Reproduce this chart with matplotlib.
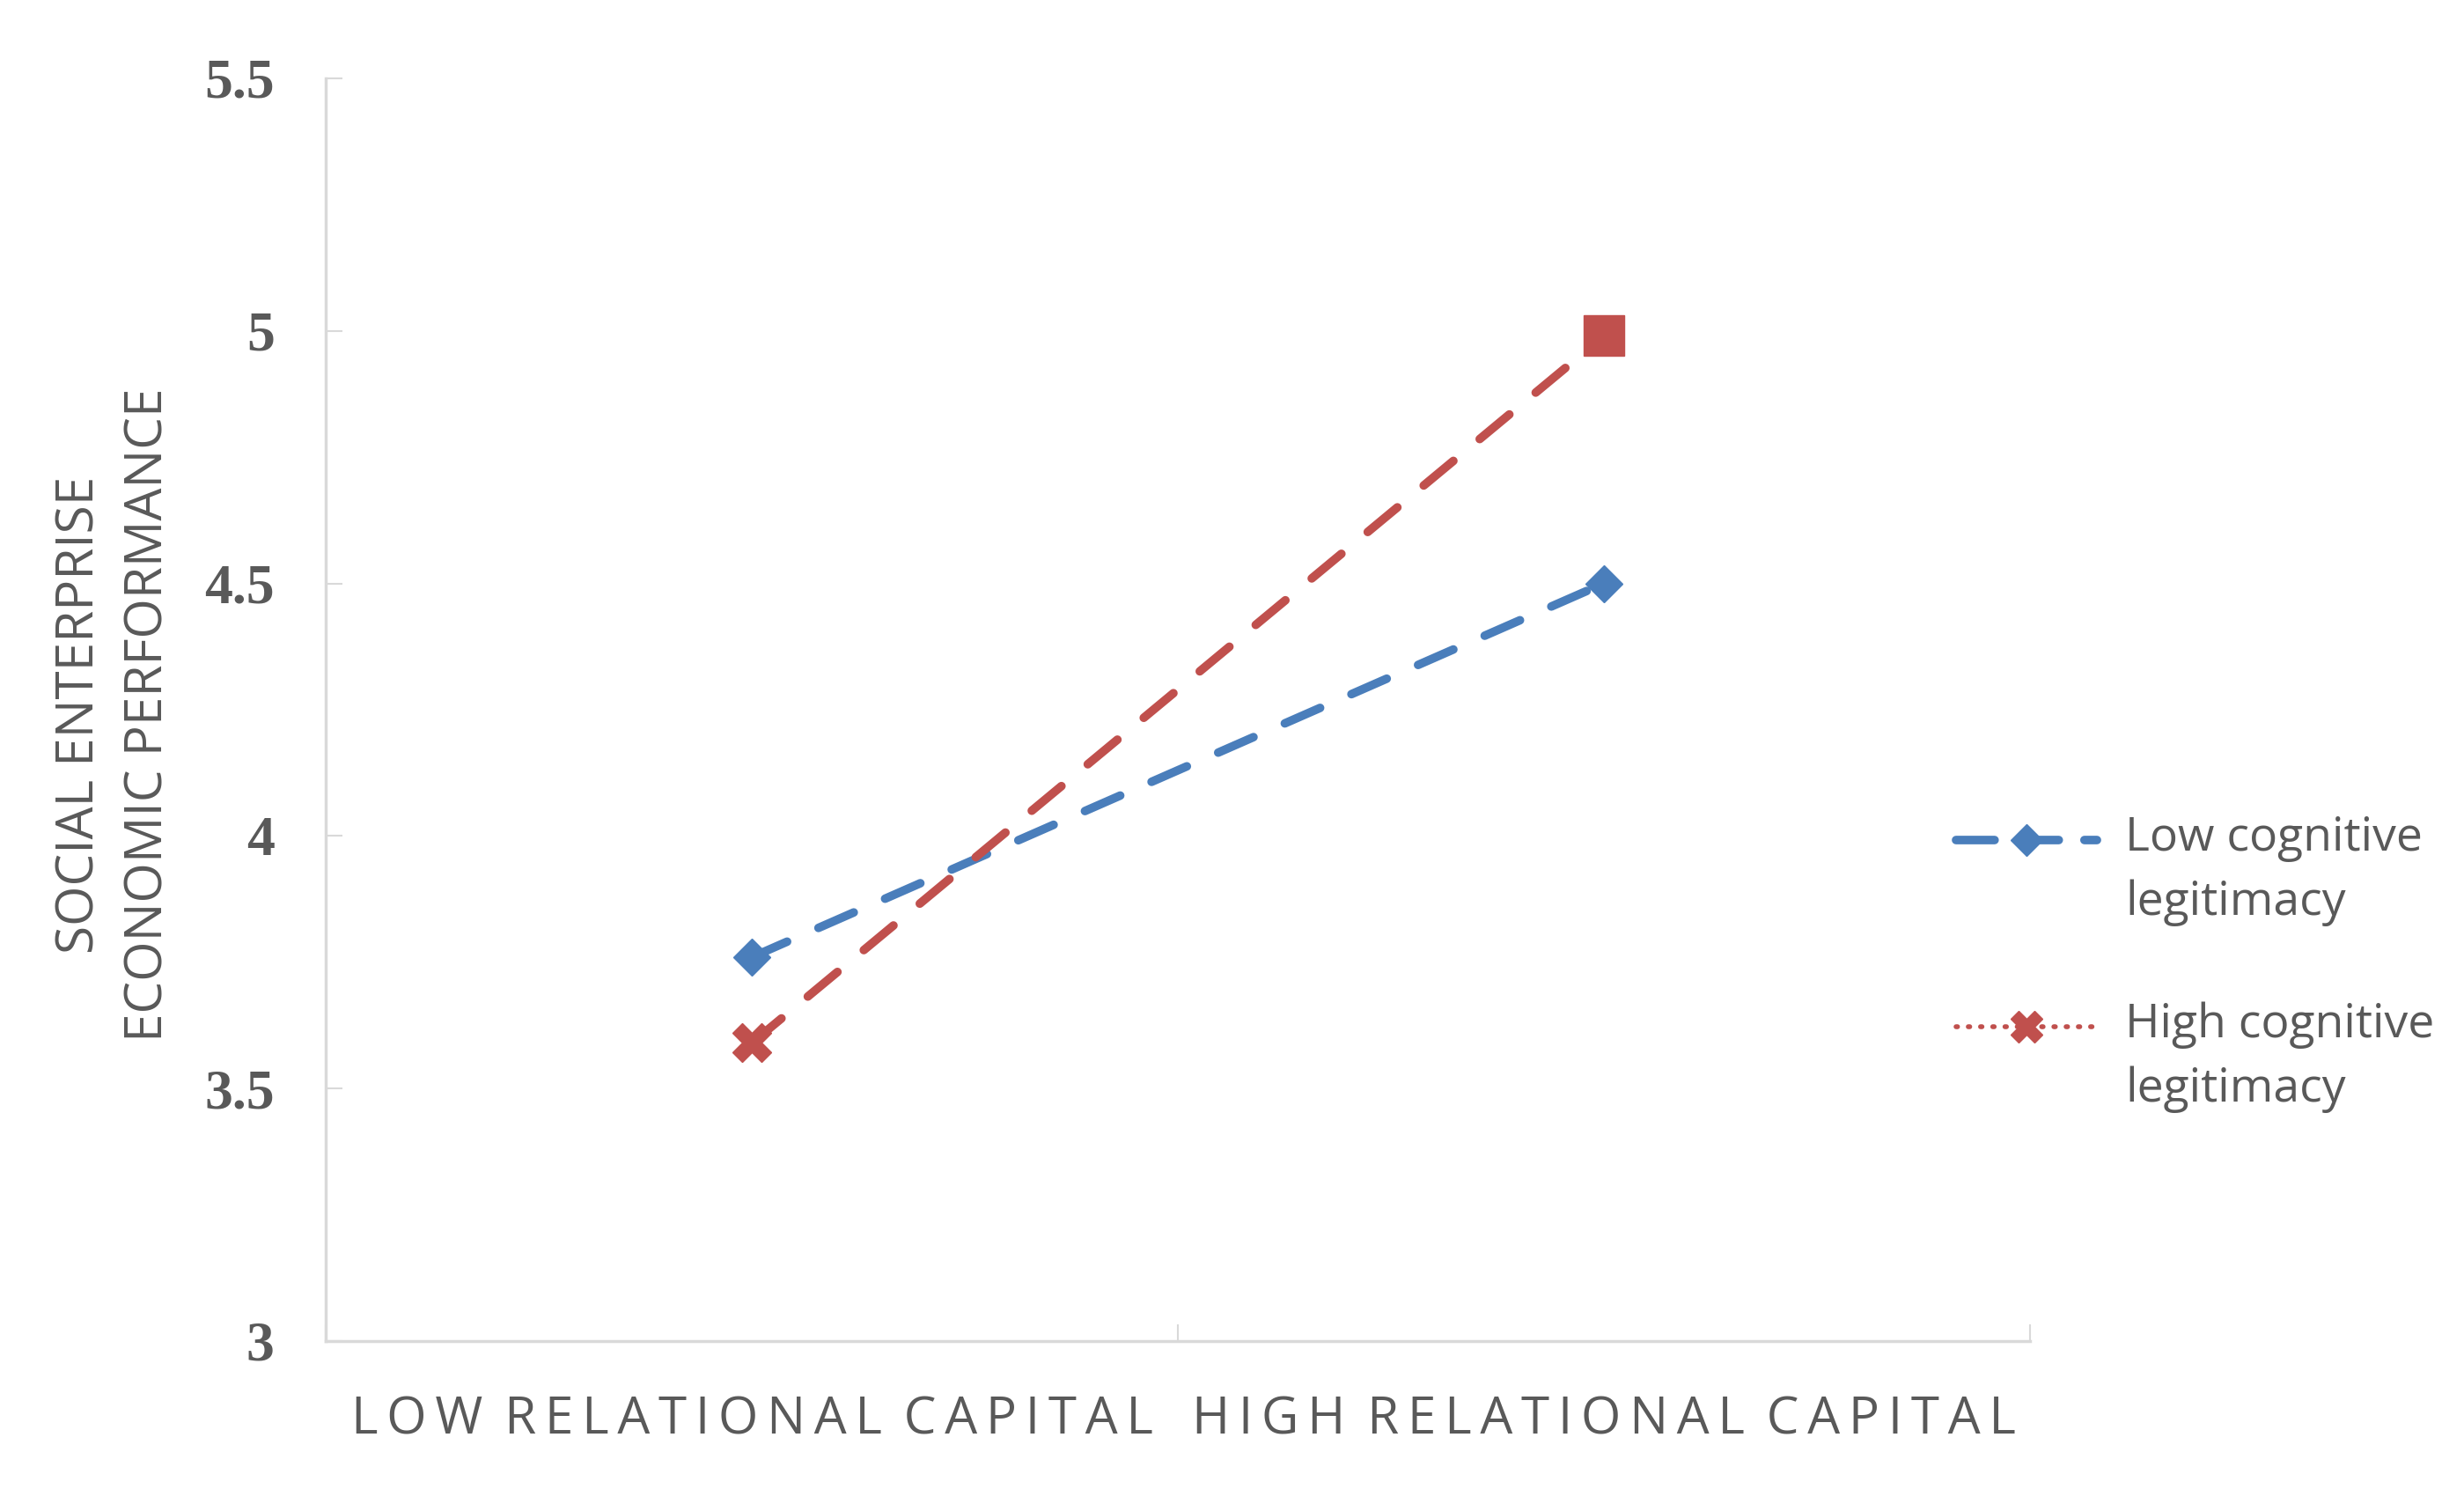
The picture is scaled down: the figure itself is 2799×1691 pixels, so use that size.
import numpy as np
import matplotlib
matplotlib.use("Agg")
import matplotlib.pyplot as plt
from matplotlib.lines import Line2D
from matplotlib.legend_handler import HandlerLine2D

# ---- data ----
categories = ["LOW RELATIONAL CAPITAL", "HIGH RELATIONAL CAPITAL"]
low_legit = [3.76, 4.50]
high_legit = [3.59, 4.99]
series_names = ["Low cognitive\nlegitimacy", "High cognitive\nlegitimacy"]
yticks = [3, 3.5, 4, 4.5, 5, 5.5]
ytick_labels = ["3", "3.5", "4", "4.5", "5", "5.5"]
ylabel = "SOCIAL ENTERPRISE\nECONOMIC PERFORMANCE"

BLUE = "#4A7EBB"
RED = "#C0504D"
GRAY = "#595959"
SPINE = "#D9D9D9"

SP = "\u2006"  # six-per-em space used as letter tracking


def tracked(s):
    words = s.split(" ")
    return (" " + SP).join(SP.join(list(w)) for w in words)


fig = plt.figure(figsize=(27.99, 16.91), dpi=100)
ax = fig.add_axes([0.1322, 0.0994, 0.8239 - 0.1322, 0.9474 - 0.0994])

x = np.arange(len(categories)) + 0.5

ax.plot(x, low_legit, color=BLUE, lw=7, dashes=(4.5, 4.0), dash_capstyle="round",
        marker="D", markersize=21, markevery=[0, 1], zorder=3)
ax.plot(x, high_legit, color=RED, lw=7, dashes=(4.5, 4.0), dash_capstyle="round", zorder=3)
ax.plot(x[:1], high_legit[:1], ls="none", marker="X", markersize=31, color=RED, zorder=4)
ax.plot(x[1:], high_legit[1:], ls="none", marker="s", markersize=33, color=RED, zorder=4)

ax.set_xlim(0, 2)
ax.set_ylim(3, 5.5)
ax.set_yticks(yticks)
ax.set_yticklabels(ytick_labels)
ax.set_xticks([0, 1, 2])
ax.set_xticklabels(["", "", ""])
ax.set_xticks(x, minor=True)
ax.set_xticklabels([tracked(c) for c in categories], minor=True)

for s in ["top", "right"]:
    ax.spines[s].set_visible(False)
for s in ["left", "bottom"]:
    ax.spines[s].set_color(SPINE)
    ax.spines[s].set_linewidth(2.5)

ax.tick_params(axis="y", direction="in", length=14, width=1.5, color=SPINE, pad=42,
               labelsize=46, labelcolor=GRAY)
for t in ax.get_yticklabels():
    t.set_fontfamily("Liberation Serif")
    t.set_fontweight("bold")
ax.tick_params(axis="x", which="major", direction="in", length=14, width=1.5, color=SPINE)
ax.tick_params(axis="x", which="minor", length=0, pad=44, labelsize=42, labelcolor=GRAY)
for t in ax.get_xticklabels(minor=True):
    t.set_fontfamily(["Open Sans", "DejaVu Sans"])

fig.text(0.0466, 0.5198, ylabel, rotation=90, ha="center", va="center",
         multialignment="center", fontsize=42, color=GRAY, family="Open Sans",
         linespacing=1.43)


class TopHandler(HandlerLine2D):
    def __init__(self, shift, **kw):
        super().__init__(**kw)
        self.shift = shift

    def create_artists(self, legend, orig_handle, xdescent, ydescent, width, height,
                       fontsize, trans):
        arts = super().create_artists(legend, orig_handle, xdescent, ydescent, width,
                                      height, fontsize, trans)
        for a in arts:
            a.set_ydata(np.asarray(a.get_ydata(), dtype=float) + self.shift)
        return arts


h1 = Line2D([], [], color=BLUE, lw=7, dashes=(4.5, 3.0), dash_capstyle="round",
            marker="D", markersize=18)
h2 = Line2D([], [], color=RED, lw=4, ls=(0, (0.3, 2.2)), dash_capstyle="round",
            marker="X", markersize=26)
leg = fig.legend([h1, h2], series_names, loc="upper left",
                 bbox_to_anchor=(2222 / 2799, 1 - 925 / 1691), frameon=False,
                 borderpad=0, borderaxespad=0, handlelength=3.0, handletextpad=0.6,
                 labelspacing=1.6, prop={"family": "Open Sans", "size": 38.5},
                 handler_map={h1: TopHandler(26), h2: TopHandler(26)})
for t in leg.get_texts():
    t.set_color(GRAY)
    t.set_linespacing(1.49)

fig.savefig("out.png", dpi=100)
